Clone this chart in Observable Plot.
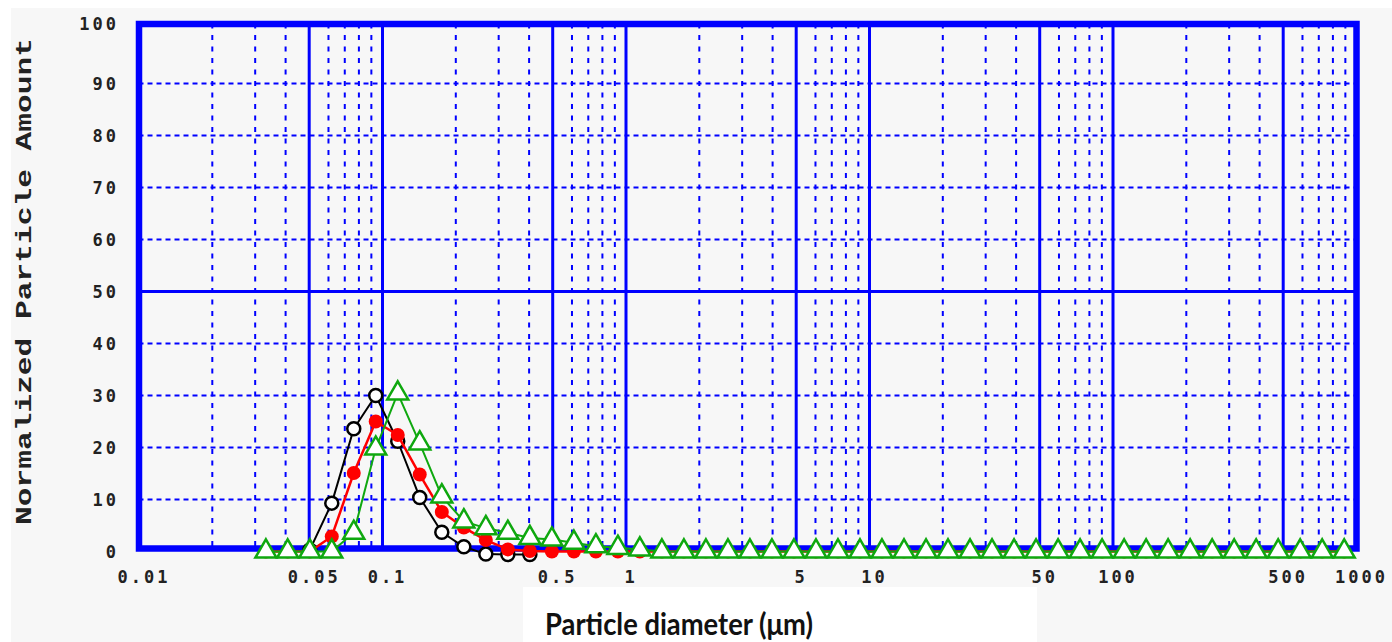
<!DOCTYPE html>
<html>
<head>
<meta charset="utf-8">
<script src="https://cdn.jsdelivr.net/npm/d3@7"></script>
<script src="https://cdn.jsdelivr.net/npm/@observablehq/plot@0.6"></script>
<style>
html, body { margin: 0; padding: 0; background: #ffffff; }
#wrap { position: relative; width: 1392px; height: 642px; overflow: hidden; background: #ffffff; }
#bg { position: absolute; left: 11px; top: 8px; width: 1381px; height: 634px; background: #f7f7f7; }
#chart { position: absolute; left: 0; top: 0; }
#ytitle { position: absolute; left: 0; top: 0; }
#xlab { position: absolute; left: 523px; top: 587px; width: 514px; height: 55px; background: #ffffff; }
</style>
</head>
<body>
<div id="wrap">
  <div id="bg"></div>
  <div id="chart"></div>
  <svg id="ytitle" width="60" height="560">
    <text transform="translate(31,525) rotate(-90)" x="0" y="0" textLength="487" lengthAdjust="spacingAndGlyphs"
      font-family="'Liberation Mono', 'Courier New', monospace" font-weight="bold" font-size="22" fill="#222">Normalized Particle Amount</text>
  </svg>
  <div id="xlab">
    <svg width="514" height="55">
      <text x="22" y="48" textLength="268" lengthAdjust="spacingAndGlyphs"
        font-family="Lato, 'Open Sans', sans-serif" font-weight="bold" font-size="31" fill="#111">Particle diameter (μm)</text>
    </svg>
  </div>
</div>
<script>
// Particle size channels (µm)
const diameters = [0.0332,0.0408,0.0503,0.0619,0.0762,0.0938,0.1155,0.1422,0.1752,0.2158,
  0.2657,0.3271,0.4029,0.4961,0.6109,0.7522,0.9262,1.140,1.404,1.729,
  2.129,2.622,3.228,3.975,4.895,6.028,7.422,9.140,11.25,13.86,
  17.07,21.01,25.88,31.86,39.24,48.31,59.49,73.26,90.21,111.1,
  136.8,168.4,207.4,255.4,314.5,387.2,476.8,587.1,722.8,890.2];

// Black open circles (first two channels not plotted)
const blackValues = [null,null,0.3,9.3,23.6,30.0,21.2,10.4,3.7,0.9,-0.5,-0.6,-0.6];

// Red filled circles
const redValues = [0,0,0,2.9,15.1,25.0,22.4,14.8,7.6,4.6,2.2,0.4,0.1,0,0,0,0,0,0,0,
  0,0,0,0,0,0,0,0,0,0,0,0,0,0,0,0,0,0,0,0,0,0,0,0,0,0,0,0,0,0];

// Green open triangles
const greenValues = [0,0,0,0,3.6,19.8,30.4,20.8,10.6,5.8,4.5,3.6,2.6,2.3,1.7,1.0,0.7,0.4,0,0,
  0,0,0,0,0,0,0,0,0,0,0,0,0,0,0,0,0,0,0,0,0,0,0,0,0,0,0,0,0,0];

const xTicks = [0.01,0.05,0.1,0.5,1,5,10,50,100,500,1000];
const xTickLabels = ["0.01","0.05","0.1","0.5","1","5","10","50","100","500","1000"];
const xMajorGrid = [0.05,0.1,0.5,1,5,10,50,100,500];
const xMinorGrid = [0.02,0.03,0.04,0.06,0.07,0.08,0.09,0.2,0.3,0.4,0.6,0.7,0.8,0.9,
  2,3,4,6,7,8,9,20,30,40,60,70,80,90,200,300,400,600,700,800,900];
const yTicks = [0,10,20,30,40,50,60,70,80,90];
const yTopTick = [100];
const yMinorGrid = [10,20,30,40,60,70,80,90];
const yMajorGrid = [50];

const toSeries = (vals) => vals.map((v, i) => ({d: diameters[i], v})).filter(p => p.v !== null);
const black = toSeries(blackValues);
const red = toSeries(redValues);
const green = toSeries(greenValues);

const W = 1392, H = 588;
const blue = "#0000ff";
const tickFont = "'DejaVu Sans Mono', 'Liberation Mono', monospace";

const chart = Plot.plot({
  width: W,
  height: H,
  marginLeft: 138.5,
  marginRight: W - 1356,
  marginTop: 23.5,
  marginBottom: H - 548,
  x: {type: "log", domain: [0.01, 1000], axis: null},
  y: {domain: [0.577, 101.44], axis: null},
  style: {background: "transparent", overflow: "visible", letterSpacing: "3px"},
  marks: [
    Plot.ruleX(xMinorGrid, {stroke: blue, strokeWidth: 2, strokeDasharray: "5,6.5"}),
    Plot.ruleY(yMinorGrid, {stroke: blue, strokeWidth: 2, strokeDasharray: "5,4"}),
    Plot.ruleX(xMajorGrid, {stroke: blue, strokeWidth: 3}),
    Plot.ruleY(yMajorGrid, {stroke: blue, strokeWidth: 3}),
    Plot.frame({stroke: blue, strokeWidth: 6.5}),
    Plot.text(xTicks, {x: d => d, frameAnchor: "bottom", dy: 34, dx: 5, text: (d, i) => xTickLabels[i],
      fontFamily: tickFont, fontWeight: "bold", fontSize: 17, fill: "#222"}),
    Plot.text(yTicks, {y: d => d, frameAnchor: "left", dx: -20, dy: 1, textAnchor: "end", text: d => String(d),
      fontFamily: tickFont, fontWeight: "bold", fontSize: 17, fill: "#222"}),
    Plot.text(yTopTick, {frameAnchor: "top-left", dx: -20, dy: 1, textAnchor: "end", lineAnchor: "middle", text: d => String(d),
      fontFamily: tickFont, fontWeight: "bold", fontSize: 17, fill: "#222"}),
    Plot.line(black, {x: "d", y: "v", stroke: "#000", strokeWidth: 2}),
    Plot.dot(black, {x: "d", y: "v", r: 6.5, stroke: "#000", strokeWidth: 2.5, fill: "#ffffff"}),
    Plot.line(red, {x: "d", y: "v", stroke: "#ff0000", strokeWidth: 2.5}),
    Plot.dot(red, {x: "d", y: "v", r: 7, fill: "#ff0000", stroke: "none"}),
    Plot.line(green, {x: "d", y: "v", stroke: "#0fa80f", strokeWidth: 2}),
    Plot.dot(green, {x: "d", y: "v", symbol: "triangle", r: 7.8, stroke: "#0fa80f", strokeWidth: 2.5, fill: "#ffffff"})
  ]
});
document.getElementById("chart").appendChild(chart);
</script>
</body>
</html>
